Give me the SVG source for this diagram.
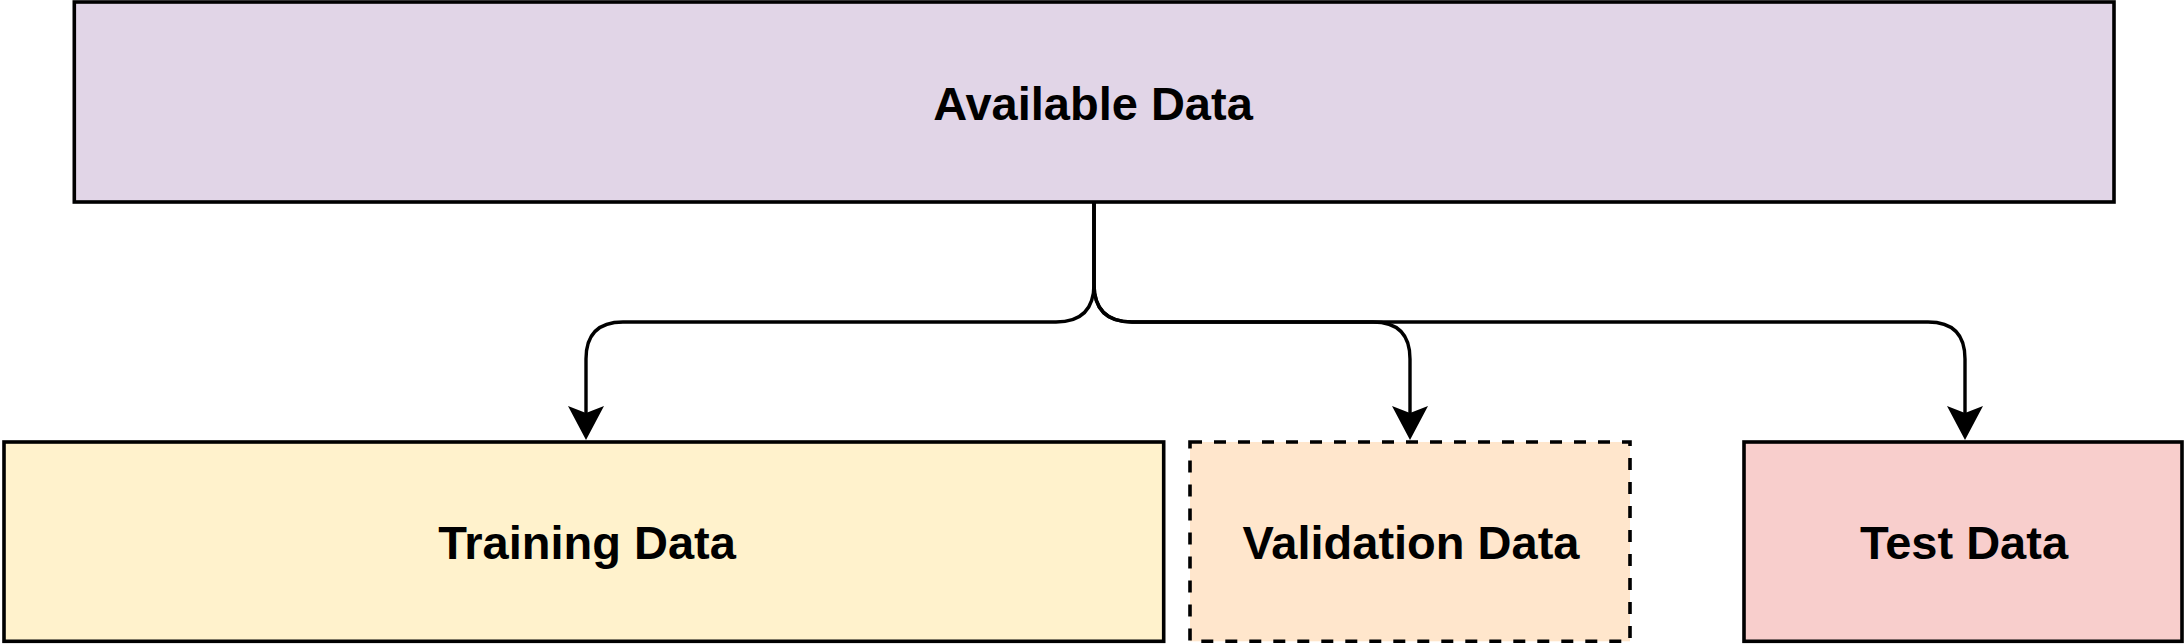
<svg xmlns="http://www.w3.org/2000/svg" width="2184" height="644" viewBox="0 0 2184 644">
  <style>
    .box { stroke: #000000; stroke-width: 3.6; }
    .dashed { stroke-dasharray: 12 12; }
    .label { font-family: "Liberation Sans", Arial, Helvetica, sans-serif; font-weight: bold; font-size: 47px; fill: #000000; text-anchor: middle; }
    .edge { fill: none; stroke: #000000; stroke-width: 3.4; }
  </style>
  <defs>
    <marker id="arrow" markerUnits="userSpaceOnUse" viewBox="-10 -20 40 40" markerWidth="40" markerHeight="40" refX="0" refY="0" orient="auto">
      <path d="M27,0 L-7,-18 L0,0 L-7,18 Z" fill="#000000"/>
    </marker>
  </defs>
  <rect width="2184" height="644" fill="#ffffff"/>

  <g id="connectors">
    <path class="edge" d="M1094,202 V284 Q1094,322 1056,322 H623 Q586,322 586,359 V413" marker-end="url(#arrow)"/>
    <path class="edge" d="M1094,202 V284 Q1094,322 1132,322 H1373 Q1410,322 1410,359 V413" marker-end="url(#arrow)"/>
    <path class="edge" d="M1094,202 V284 Q1094,322 1132,322 H1928 Q1965,322 1965,359 V413" marker-end="url(#arrow)"/>
  </g>

  <g id="available-data">
    <rect class="box" x="74.3" y="2" width="2039.7" height="200" fill="#e1d5e7"/>
    <text class="label" x="1093" y="120">Available Data</text>
  </g>

  <g id="training-data">
    <rect class="box" x="4" y="442" width="1159.7" height="199.3" fill="#fff2cc"/>
    <text class="label" x="587" y="559">Training Data</text>
  </g>

  <g id="validation-data">
    <rect class="box dashed" x="1190" y="442" width="440" height="199.3" fill="#ffe6cc"/>
    <text class="label" x="1411" y="559">Validation Data</text>
  </g>

  <g id="test-data">
    <rect class="box" x="1744" y="442" width="438" height="199.3" fill="#f8cecc"/>
    <text class="label" x="1964" y="559">Test Data</text>
  </g>
</svg>
